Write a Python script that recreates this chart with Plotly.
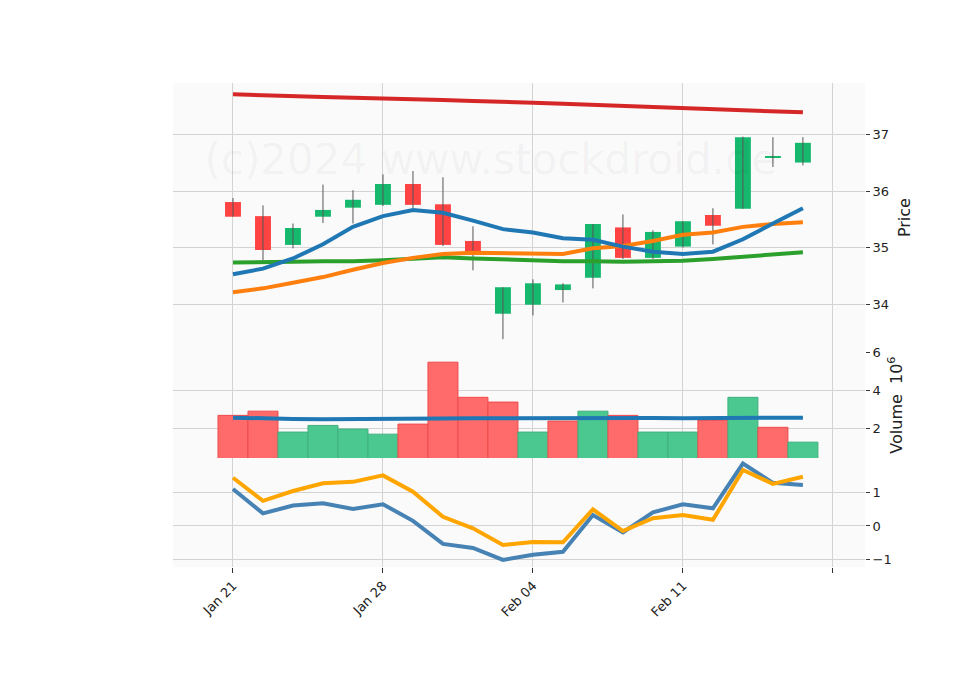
import plotly.graph_objects as go

# trading-day index 0..19
tick_pos = [0, 5, 10, 15, 20]
tick_text = ["Jan 21", "Jan 28", "Feb 04", "Feb 11", ""]

opens = [35.81, 35.56, 35.05, 35.55, 35.71, 35.76, 36.13, 35.77, 35.12, 33.83,
         33.99, 34.25, 34.47, 35.36, 34.82, 35.02, 35.58, 35.69, 36.60, 36.51]
highs = [35.88, 35.75, 35.43, 36.12, 36.02, 36.30, 36.36, 36.25, 35.38, 34.30,
         34.44, 34.37, 35.42, 35.59, 35.31, 35.47, 35.70, 36.97, 36.96, 36.96]
lows = [35.55, 34.78, 34.99, 35.44, 35.43, 35.74, 35.70, 35.03, 34.60, 33.38,
        33.80, 34.03, 34.28, 34.80, 34.80, 35.00, 35.06, 35.69, 36.43, 36.46]
closes = [35.55, 34.96, 35.35, 35.67, 35.85, 36.13, 35.76, 35.05, 34.92, 34.30,
          34.37, 34.35, 35.42, 34.82, 35.28, 35.47, 35.39, 36.96, 36.61, 36.86]

ma_blue = [34.53, 34.63, 34.81, 35.06, 35.37, 35.56, 35.67, 35.62, 35.48, 35.33,
           35.27, 35.17, 35.14, 35.02, 34.93, 34.89, 34.93, 35.15, 35.43, 35.70]
ma_orange = [34.21, 34.28, 34.38, 34.48, 34.61, 34.73, 34.82, 34.89, 34.91, 34.90,
             34.89, 34.89, 34.99, 35.03, 35.12, 35.23, 35.27, 35.37, 35.42, 35.45]
ma_green = [34.74, 34.74, 34.75, 34.76, 34.76, 34.78, 34.81, 34.83, 34.81, 34.79,
            34.77, 34.76, 34.76, 34.75, 34.76, 34.77, 34.80, 34.84, 34.88, 34.92]
ma_red = [37.72, 37.70, 37.69, 37.67, 37.66, 37.65, 37.63, 37.62, 37.60, 37.59,
          37.57, 37.55, 37.53, 37.52, 37.50, 37.48, 37.46, 37.44, 37.42, 37.40]

volume = [2.67, 2.89, 1.79, 2.14, 1.95, 1.68, 2.21, 5.47, 3.62, 3.37,
          1.79, 2.37, 2.89, 2.67, 1.79, 1.79, 2.42, 3.62, 2.04, 1.26]
vol_ma = [2.55, 2.50, 2.48, 2.47, 2.47, 2.46, 2.45, 2.50, 2.52, 2.53,
          2.53, 2.54, 2.55, 2.55, 2.53, 2.52, 2.53, 2.56, 2.56, 2.55]

ind_blue = [1.09, 0.37, 0.60, 0.67, 0.50, 0.64, 0.15, -0.53, -0.65, -1.00,
            -0.85, -0.76, 0.32, -0.19, 0.40, 0.64, 0.52, 1.84, 1.27, 1.21]
ind_orange = [1.42, 0.74, 1.03, 1.26, 1.30, 1.49, 1.01, 0.27, -0.07, -0.56,
              -0.47, -0.48, 0.49, -0.15, 0.23, 0.32, 0.18, 1.65, 1.24, 1.45]

UP, DOWN = "#16b86e", "#ff4242"
x = list(range(len(opens)))

fig = go.Figure()

# watermark as a text trace so it stays behind the candles
fig.add_trace(go.Scatter(x=[8.6], y=[36.5], mode="text", text=["(c)2024 www.stockdroid.de"],
                         textfont=dict(size=42, color="rgba(0,0,0,0.045)"),
                         hoverinfo="skip", xaxis="x", yaxis="y"))

# wicks
wx, wy = [], []
for i in x:
    wx += [i, i, None]
    wy += [lows[i], highs[i], None]
fig.add_trace(go.Scatter(x=wx, y=wy, mode="lines", line=dict(color="#555555", width=1),
                         xaxis="x", yaxis="y"))

# bodies
body_h = [c - o if abs(c - o) > 0.01 else 0.012 for o, c in zip(opens, closes)]
body_c = [UP if c >= o else DOWN for o, c in zip(opens, closes)]
fig.add_trace(go.Bar(x=x, y=body_h, base=opens, width=0.53, marker_color=body_c,
                     marker_line_width=0, xaxis="x", yaxis="y"))

for vals, col in [(ma_red, "#d62728"), (ma_green, "#2ca02c"),
                  (ma_orange, "#ff7f0e"), (ma_blue, "#1f77b4")]:
    fig.add_trace(go.Scatter(x=x, y=vals, mode="lines", line=dict(color=col, width=4),
                             xaxis="x", yaxis="y"))

# volume
vol_c = []
for i in x:
    prev = closes[i - 1] if i > 0 else opens[i]
    vol_c.append("#4ac88f" if closes[i] >= prev else "#ff6b6b")
vol_line = ["#40b07e" if c == "#4ac88f" else "#f04a4a" for c in vol_c]
fig.add_trace(go.Bar(x=x, y=volume, width=1, marker_color=vol_c,
                     marker_line=dict(color=vol_line, width=1), xaxis="x2", yaxis="y2"))
fig.add_trace(go.Scatter(x=x, y=vol_ma, mode="lines", line=dict(color="#1f77b4", width=4),
                         xaxis="x2", yaxis="y2"))

# indicator
fig.add_trace(go.Scatter(x=x, y=ind_blue, mode="lines", line=dict(color="#4682b4", width=4),
                         xaxis="x3", yaxis="y3"))
fig.add_trace(go.Scatter(x=x, y=ind_orange, mode="lines", line=dict(color="#ffa500", width=4),
                         xaxis="x3", yaxis="y3"))

grid = "#d3d3d3"
xcommon = dict(range=[-2, 21.07], tickvals=tick_pos, showgrid=True, gridcolor=grid,
               zeroline=False, showline=False, automargin=False)
ycommon = dict(side="right", showgrid=True, gridcolor=grid, zeroline=False,
               ticks="outside", ticklen=4, tickcolor="#333", showline=False,
               automargin=False)

fig.update_layout(
    width=960, height=690,
    margin=dict(l=165, r=103, t=75, b=131, autoexpand=False),
    paper_bgcolor="white", plot_bgcolor="#fafafa",
    showlegend=False, barmode="overlay",
    font=dict(family="DejaVu Sans", size=13, color="#222"),
    xaxis=dict(xcommon, anchor="y", showticklabels=False, matches="x3"),
    xaxis2=dict(xcommon, anchor="y2", showticklabels=False, matches="x3"),
    xaxis3=dict(xcommon, anchor="y3", ticktext=tick_text, tickangle=-45,
                ticks="outside", ticklen=5, tickcolor="#333"),
    yaxis=dict(ycommon, domain=[0.444, 1], range=[33.15, 37.92],
               tickvals=[34, 35, 36, 37], title=dict(text="Price", standoff=10)),
    yaxis2=dict(ycommon, domain=[0.225, 0.444], range=[0.42, 6],
                tickvals=[2, 4, 6], title=dict(text="Volume  10<sup>6</sup>", standoff=10)),
    yaxis3=dict(ycommon, domain=[0, 0.225], range=[-1.21, 2.0], tickvals=[-1, 0, 1]),
)

fig.write_html("out.html")
